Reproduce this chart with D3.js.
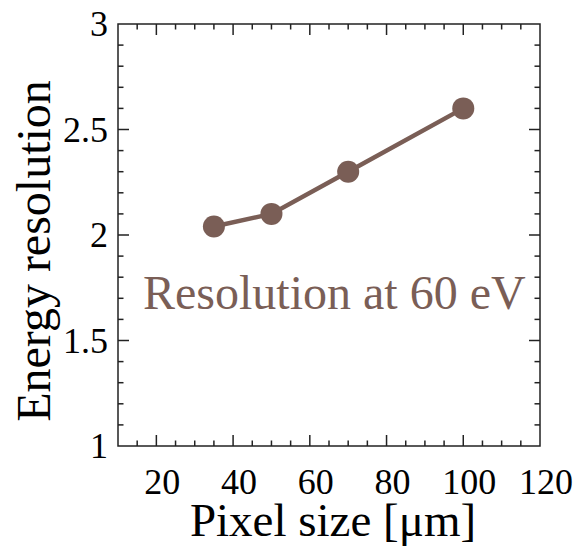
<!DOCTYPE html>
<html><head><meta charset="utf-8">
<script src="https://cdn.jsdelivr.net/npm/d3@7"></script>
<style>html,body{margin:0;padding:0;background:#fff;}</style>
</head><body>
<svg id="chart" width="577" height="548"></svg>
<script>
const pixelSize = [35, 50, 70, 100];
const resolution = [2.04, 2.10, 2.30, 2.60];
const xTickValues = [20, 40, 60, 80, 100, 120];
const yTickValues = [1, 1.5, 2, 2.5, 3];
const xTitle = "Pixel size [\u03bcm]";
const yTitle = "Energy resolution";
const annotation = "Resolution at 60 eV";

const color = "#7a5e56";
const font = "'Liberation Serif','Times New Roman',serif";
const svg = d3.select("#chart");
const m = {l:118, r:540, t:24, b:446};
const x = d3.scaleLinear().domain([10,120]).range([m.l, m.r]);
const y = d3.scaleLinear().domain([1,3]).range([m.b, m.t]);

const xMinor = d3.range(15, 120, 5).filter(v => !xTickValues.includes(v));
const yMinor = d3.range(1.1, 3.0, 0.1).map(v => +v.toFixed(1)).filter(v => !yTickValues.includes(v));

const ax = svg.append("g").attr("stroke", "#222").attr("stroke-width", 1.5);
// frame
ax.append("rect").attr("x", m.l).attr("y", m.t).attr("width", m.r - m.l).attr("height", m.b - m.t).attr("fill", "none");
// x ticks
xTickValues.filter(v => v < 120).forEach(v => {
  ax.append("line").attr("x1", x(v)).attr("x2", x(v)).attr("y1", m.b).attr("y2", m.b - 11);
  ax.append("line").attr("x1", x(v)).attr("x2", x(v)).attr("y1", m.t).attr("y2", m.t + 11);
});
xMinor.forEach(v => {
  ax.append("line").attr("x1", x(v)).attr("x2", x(v)).attr("y1", m.b).attr("y2", m.b - 5.5);
  ax.append("line").attr("x1", x(v)).attr("x2", x(v)).attr("y1", m.t).attr("y2", m.t + 5.5);
});
yTickValues.filter(v => v > 1 && v < 3).forEach(v => {
  ax.append("line").attr("x1", m.l).attr("x2", m.l + 11).attr("y1", y(v)).attr("y2", y(v));
  ax.append("line").attr("x1", m.r).attr("x2", m.r - 11).attr("y1", y(v)).attr("y2", y(v));
});
yMinor.forEach(v => {
  ax.append("line").attr("x1", m.l).attr("x2", m.l + 5.5).attr("y1", y(v)).attr("y2", y(v));
  ax.append("line").attr("x1", m.r).attr("x2", m.r - 5.5).attr("y1", y(v)).attr("y2", y(v));
});

// tick labels
svg.append("g").selectAll("text").data(xTickValues).join("text")
  .attr("x", d => x(d) + 6).attr("y", 494)
  .attr("text-anchor", "middle").attr("font-family", font).attr("font-size", 36).attr("fill", "#000")
  .text(d => d);
svg.append("g").selectAll("text").data(yTickValues).join("text")
  .attr("x", 108).attr("y", d => y(d)).attr("dy", "0.34em")
  .attr("text-anchor", "end").attr("font-family", font).attr("font-size", 36).attr("fill", "#000")
  .text(d => d3.format("~g")(d));

// titles
svg.append("text").attr("x", 333).attr("y", 536).attr("text-anchor", "middle")
  .attr("font-family", font).attr("font-size", 47).attr("fill", "#000").text(xTitle);
svg.append("text").attr("transform", "translate(50,251) rotate(-90)").attr("text-anchor", "middle")
  .attr("font-family", font).attr("font-size", 48).attr("fill", "#000").text(yTitle);

// data
const pts = pixelSize.map((v, i) => [v, resolution[i]]);
svg.append("path").datum(pts)
  .attr("d", d3.line().x(d => x(d[0])).y(d => y(d[1])))
  .attr("fill", "none").attr("stroke", color).attr("stroke-width", 4.5);
svg.append("g").selectAll("circle").data(pts).join("circle")
  .attr("cx", d => x(d[0])).attr("cy", d => y(d[1])).attr("r", 11).attr("fill", color);

svg.append("text").attr("x", 143).attr("y", 309)
  .attr("font-family", font).attr("font-size", 48).attr("fill", color).text(annotation);
</script>
</body></html>
